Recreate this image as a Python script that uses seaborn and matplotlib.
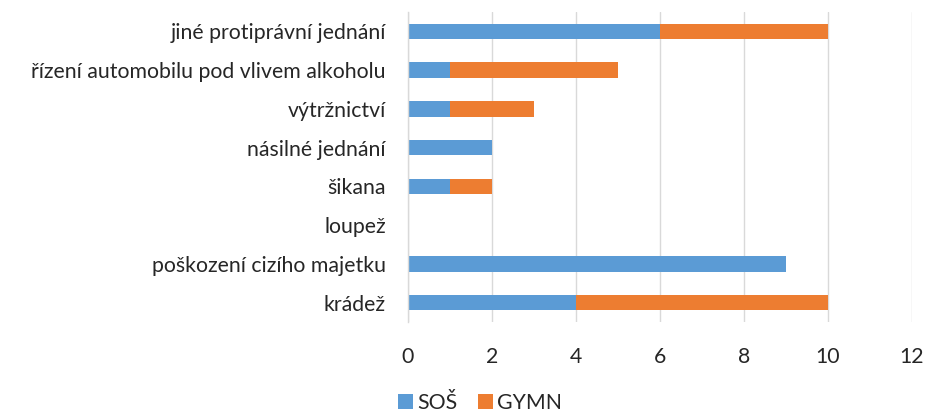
import matplotlib
matplotlib.use("Agg")
import matplotlib.pyplot as plt
import seaborn as sns
import pandas as pd
from matplotlib.patches import Patch

categories = [
    "jiné protiprávní jednání",
    "řízení automobilu pod vlivem alkoholu",
    "výtržnictví",
    "násilné jednání",
    "šikana",
    "loupež",
    "poškození cizího majetku",
    "krádež",
]
sos = [6, 1, 1, 2, 1, 0, 9, 4]
gymn = [4, 4, 2, 0, 1, 0, 0, 6]
series_names = ["SOŠ", "GYMN"]
x_ticks = [0, 2, 4, 6, 8, 10, 12]

BLUE = "#5B9BD5"
ORANGE = "#ED7D31"
TEXT = "#262626"
FS = 15.3

sns.set_theme(style="white")
plt.rcParams["font.family"] = ["Lato", "DejaVu Sans"]

df = pd.DataFrame({"kat": categories, "sos": sos, "gymn": gymn})
df["total"] = df["sos"] + df["gymn"]

fig = plt.figure(figsize=(9.25, 4.12), dpi=100)
ax = fig.add_axes([408 / 925, 1 - 322 / 412, 504 / 925, 310 / 412])

# stacked bars: full total in orange, SOŠ part drawn over it in blue
sns.barplot(data=df, x="total", y="kat", orient="h", color=ORANGE,
            width=0.4, saturation=1, linewidth=0, ax=ax)
sns.barplot(data=df, x="sos", y="kat", orient="h", color=BLUE,
            width=0.4, saturation=1, linewidth=0, ax=ax)

ax.set_xlim(0, 12)
ax.set_ylim(7.5, -0.5)
ax.set_xticks(x_ticks)
ax.set_xticklabels([str(t) for t in x_ticks])
ax.set_xlabel("")
ax.set_ylabel("")
ax.grid(axis="x", color="#D9D9D9", linewidth=1)
ax.set_axisbelow(True)
for s in ["top", "right", "bottom"]:
    ax.spines[s].set_visible(False)
ax.spines["left"].set_color("#D9D9D9")
ax.spines["left"].set_linewidth(1)
ax.tick_params(axis="x", length=0, pad=18, labelsize=FS, labelcolor=TEXT)
ax.tick_params(axis="y", length=0, pad=16, labelsize=FS, labelcolor=TEXT)

handles = [Patch(facecolor=BLUE, edgecolor="none"),
           Patch(facecolor=ORANGE, edgecolor="none")]
fig.legend(handles, series_names, loc="lower center",
           bbox_to_anchor=(0.519, -0.048), ncol=2, frameon=False,
           fontsize=FS, handlelength=0.7, handleheight=0.7,
           handletextpad=0.2, columnspacing=1.0, labelcolor=TEXT)

fig.savefig("out.png", dpi=100)
